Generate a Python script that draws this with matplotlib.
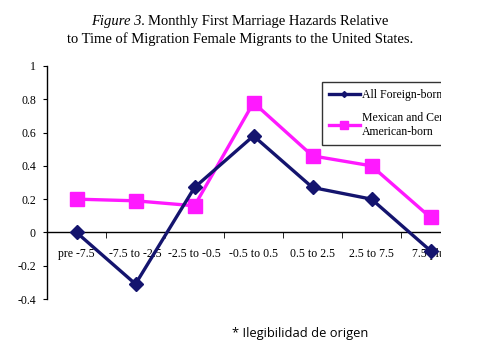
import matplotlib.pyplot as plt
from matplotlib.lines import Line2D
from matplotlib.patches import Rectangle

# data
categories = ['pre -7.5', '-7.5 to -2.5', '-2.5 to -0.5', '-0.5 to 0.5',
              '0.5 to 2.5', '2.5 to 7.5', '7.5 plus']
all_foreign = [0.0, -0.31, 0.27, 0.58, 0.27, 0.20, -0.11]
mex_central = [0.20, 0.19, 0.16, 0.78, 0.46, 0.40, 0.09]
y_ticks = [1, 0.8, 0.6, 0.4, 0.2, 0, -0.2, -0.4]
y_tick_labels = ['1', '0.8', '0.6', '0.4', '0.2', '0', '-0.2', '-0.4']

NAVY = '#14146e'
MAGENTA = '#ff19ff'
serif = 'Liberation Serif'

fig = plt.figure(figsize=(4.88, 3.45), dpi=100)
ax = fig.add_axes([47 / 488, 46 / 345, 413 / 488, 233 / 345])

x = list(range(len(categories)))
ax.plot(x, mex_central, color=MAGENTA, linewidth=2.4, marker='s',
        markersize=10, zorder=3)
ax.plot(x, all_foreign, color=NAVY, linewidth=2.4, marker='D',
        markersize=7.5, zorder=4)

ax.set_xlim(-0.5, 6.5)
ax.set_ylim(-0.4, 1.0)

for s in ['top', 'right']:
    ax.spines[s].set_visible(False)
ax.spines['bottom'].set_position(('data', 0))
ax.spines['left'].set_linewidth(1)
ax.spines['bottom'].set_linewidth(1)

ax.set_yticks(y_ticks)
ax.set_yticklabels(y_tick_labels, fontfamily=serif, fontsize=8.5)
ax.tick_params(axis='y', direction='out', length=3, pad=5)

ax.set_xticks(x)
ax.set_xticklabels(categories, fontfamily=serif, fontsize=8.5)
ax.set_xticks([i + 0.5 for i in x[:-1]], minor=True)
ax.tick_params(axis='x', which='major', length=0, pad=11)
ax.tick_params(axis='x', which='minor', direction='out', length=4)

handles = [Line2D([], [], color=NAVY, linewidth=2.4, marker='D', markersize=3),
           Line2D([], [], color=MAGENTA, linewidth=2.4, marker='s', markersize=6)]
leg = ax.legend(handles, ['All Foreign-born', 'Mexican and Central\nAmerican-born'],
                loc='upper left', bbox_to_anchor=(322 / 488, 1 - 82 / 345),
                bbox_transform=fig.transFigure, frameon=True, fancybox=False,
                prop={'family': serif, 'size': 8.5}, handlelength=2.6,
                handletextpad=0.2, labelspacing=0.9, borderpad=0.6,
                borderaxespad=0)
leg.get_frame().set_edgecolor('black')
leg.get_frame().set_linewidth(1)
leg.set_zorder(6)

# the source image is cropped on the right
fig.add_artist(Rectangle((441 / 488, 0.1), 1, 0.85, transform=fig.transFigure,
                         facecolor='white', edgecolor='none', zorder=10))

fig.text(145 / 488, 1 - 22 / 345, 'Figure 3.', ha='right', va='center',
         fontsize=10.5, family=serif, style='italic')
fig.text(148 / 488, 1 - 22 / 345, 'Monthly First Marriage Hazards Relative',
         ha='left', va='center', fontsize=10.5, family=serif)
fig.text(240 / 488, 1 - 39 / 345,
         'to Time of Migration Female Migrants to the United States.',
         ha='center', va='center', fontsize=10.5, family=serif)

fig.text(300 / 488, 1 - 333 / 345, '* Ilegibilidad de origen', ha='center',
         va='center', fontsize=9.3, family='Open Sans')

fig.savefig('out.png', dpi=100)
